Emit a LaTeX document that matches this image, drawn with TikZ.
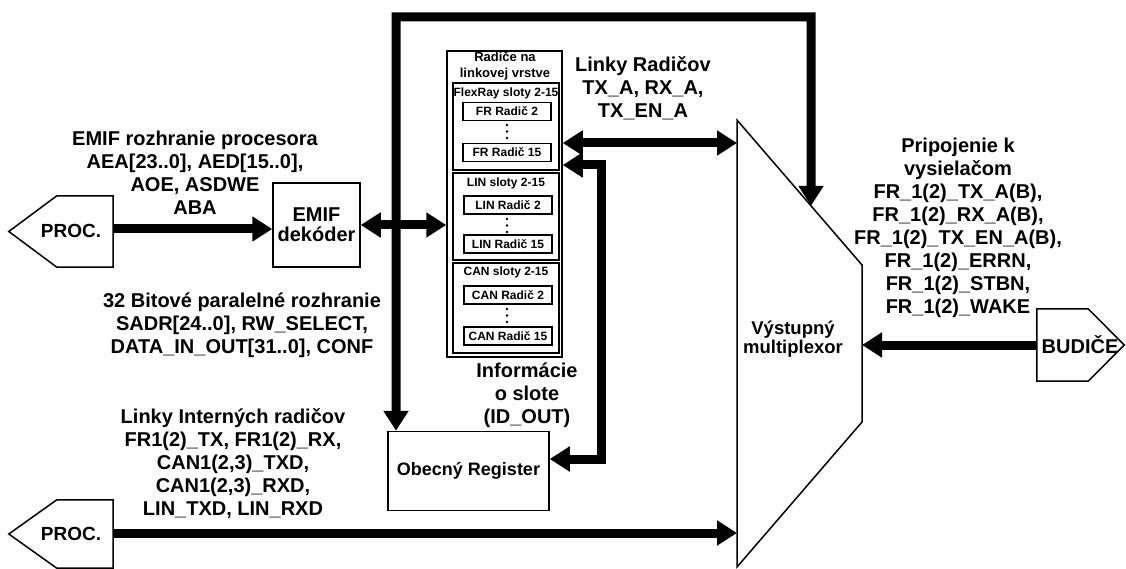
\documentclass[tikz,border=0pt]{standalone}
\usepackage{fontspec}
\setmainfont{Liberation Sans}
\usetikzlibrary{arrows.meta,calc}
\begin{document}
\begin{tikzpicture}[x=1pt,y=-1pt, line join=miter,
  lbl/.style={inner sep=0pt, align=center, font=\bfseries\fontsize{20}{23}\selectfont},
  box/.style={draw, line width=1.5pt, inner sep=0pt},
  small/.style={inner sep=0pt, align=center, font=\bfseries\fontsize{12}{15}\selectfont},
  slotbox/.style={draw, line width=1.2pt, inner sep=0pt, minimum width=88pt, minimum height=18pt, font=\bfseries\fontsize{12}{14}\selectfont},
  grp/.style={draw, line width=1.2pt, minimum width=106pt, inner sep=0pt},
  outline/.style={draw, line width=1.5pt},
  bus/.style={line width=9pt, -{Triangle[length=20pt,width=24pt]}},
  dbus/.style={line width=9pt, {Triangle[length=20pt,width=24pt]}-{Triangle[length=20pt,width=24pt]}},
]
\path[use as bounding box, fill=white] (0,0) rectangle (1126,569);

% boxes
\node[box, minimum width=87pt, minimum height=84pt, align=center, font=\bfseries\fontsize{20}{20}\selectfont] (emif) at (316.5,225) {EMIF\\dekóder};
\node[box, minimum width=161pt, minimum height=79pt, font=\bfseries\fontsize{18}{20}\selectfont] (obec) at (468.5,471) {Obecný Register};

% controllers container
\node[draw, line width=1.5pt, minimum width=115pt, minimum height=306pt, inner sep=0pt] (cont) at (504.5,204) {};
\node[small, font=\bfseries\fontsize{13}{16}\selectfont] (tcont) at (505,66) {Radiče na\\linkovej vrstve};
\node[grp, minimum height=87pt] (grpfr) at (506,126.5) {};
\node[grp, minimum height=87pt] (grplin) at (506,216.5) {};
\node[grp, minimum height=90pt] (grpcan) at (506,308) {};
\node[small] (tfr) at (506,93) {FlexRay sloty 2-15};
\node[small] (tlin) at (506,183) {LIN sloty 2-15};
\node[small] (tcan) at (506,272) {CAN sloty 2-15};
\node[slotbox] (fr2) at (507,111.5) {FR Radič 2};
\node[slotbox] (fr15) at (507,152.5) {FR Radič 15};
\node[slotbox] (lin2) at (508,205) {LIN Radič 2};
\node[slotbox] (lin15) at (508,244) {LIN Radič 15};
\node[slotbox] (can2) at (508,295) {CAN Radič 2};
\node[slotbox] (can15) at (508,336) {CAN Radič 15};
\foreach \y in {125,131.5,138, 219,225.5,232, 309,315.5,322}
  \fill (507,\y) circle (1.3pt);

% multiplexer
\coordinate (mTL) at (737,120);
\coordinate (mTR) at (862,265);
\coordinate (mBR) at (862,422);
\coordinate (mBL) at (737,567);
\draw[line width=1.5pt] (mTL) -- (mTR) -- (mBR) -- (mBL) -- cycle;
\node[inner sep=0pt, align=center, font=\bfseries\fontsize{18.5}{19}\selectfont] (muxt) at (793,339) {Výstupný\\multiplexor};

% PROC / BUDICE pentagons
\node[inner sep=0pt, minimum width=56pt, minimum height=71pt] (proc1) at (85,231.5) {};
\draw[outline] (proc1.north east) -- (proc1.north west) -- ($(proc1.west)+(-48,0)$) -- (proc1.south west) -- (proc1.south east) -- cycle;
\node[inner sep=0pt, font=\bfseries\fontsize{19}{20}\selectfont] (proc1t) at (71,231) {PROC.};

\node[inner sep=0pt, minimum width=56pt, minimum height=68pt] (proc2) at (85,534) {};
\draw[outline] (proc2.north east) -- (proc2.north west) -- ($(proc2.west)+(-48,0)$) -- (proc2.south west) -- (proc2.south east) -- cycle;
\node[inner sep=0pt, font=\bfseries\fontsize{19}{20}\selectfont] (proc2t) at (71,534) {PROC.};

\node[inner sep=0pt, minimum width=51pt, minimum height=72pt] (budice) at (1062.5,345) {};
\draw[outline] (budice.north west) -- (budice.north east) -- ($(budice.east)+(36,0)$) -- (budice.south east) -- (budice.south west) -- cycle;
\node[inner sep=0pt, font=\bfseries\fontsize{20}{20}\selectfont] (budicet) at (1080,345) {BUDIČE};

% connectors
\coordinate (wireL) at (396,17);
\coordinate (wireR) at (811,17);
\coordinate (idc) at (601,459);
\draw[dbus] (wireL |- obec.north) -- (wireL) -- (wireR) -- ($(mTL)!0.592!(mTR)$);
\draw[bus] (proc1.east |- 0,229) -- (emif.west |- 0,229);
\draw[dbus] (emif.east) -- (cont.west |- emif.east);
\draw[dbus] (cont.east |- 0,143) -- (mTL |- 0,143);
\draw[dbus] (cont.east |- 0,165) -| (idc) -- (obec.east |- idc);
\draw[bus] (proc2.east |- 0,533) -- (mBL |- 0,533);
\draw[bus] (budice.west) -- (mBR |- budice.west);

% labels
\node[lbl] (lemif) at (195,173) {EMIF rozhranie procesora\\AEA[23..0], AED[15..0],\\AOE, ASDWE\\ABA};
\node[lbl] (lpar) at (242,325) {32 Bitové paralelné rozhranie\\SADR[24..0], RW\_SELECT,\\DATA\_IN\_OUT[31..0], CONF};
\node[lbl] (lint) at (233,464) {Linky Interných radičov\\FR1(2)\_TX, FR1(2)\_RX,\\CAN1(2,3)\_TXD,\\CAN1(2,3)\_RXD,\\LIN\_TXD, LIN\_RXD};
\node[lbl] (lrad) at (643,88) {Linky Radičov\\TX\_A, RX\_A,\\TX\_EN\_A};
\node[lbl] (linfo) at (527,395) {Informácie\\o slote\\(ID\_OUT)};
\node[lbl] (lbud) at (958,228) {Pripojenie k\\vysielačom\\FR\_1(2)\_TX\_A(B),\\FR\_1(2)\_RX\_A(B),\\FR\_1(2)\_TX\_EN\_A(B),\\FR\_1(2)\_ERRN,\\FR\_1(2)\_STBN,\\FR\_1(2)\_WAKE};
\end{tikzpicture}
\end{document}
